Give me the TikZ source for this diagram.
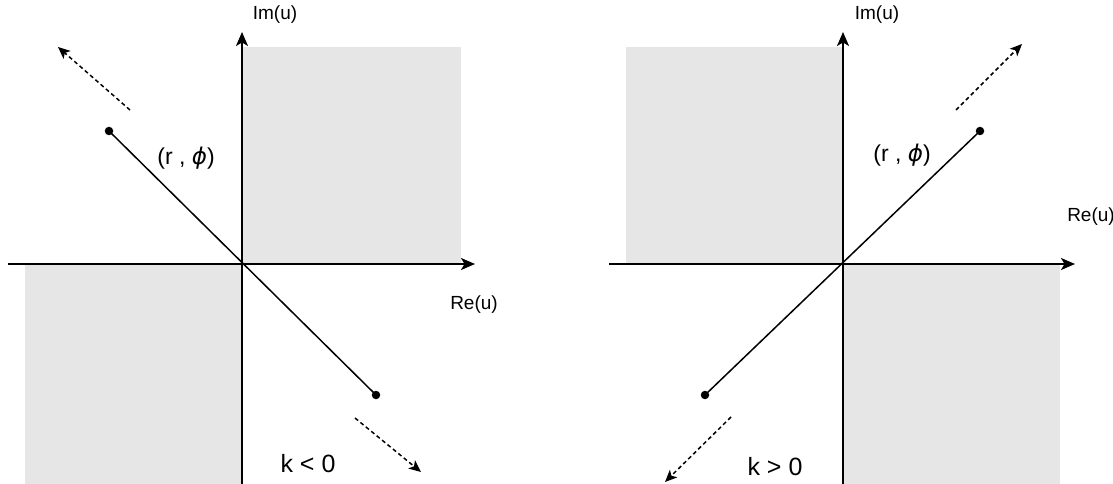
\documentclass[tikz,border=0pt]{standalone}
\usepackage{fontspec}
\setmainfont{Liberation Sans}
\newfontfamily\phifont{DejaVu Sans}
\usetikzlibrary{arrows.meta}
\definecolor{quad}{HTML}{E6E6E6}
\newcommand{\myphi}{{\phifont\itshape ϕ}}
\tikzset{
  axis/.style={line width=1.6pt, -{Stealth[length=14pt,width=12pt,inset=3.5pt]}},
  quadfill/.style={fill=quad, draw=none},
  ray/.style={line width=1.5pt},
  dotmark/.style={circle, fill=black, inner sep=0pt, minimum size=8.5pt},
  dashray/.style={line width=1.5pt, dash pattern=on 4pt off 3pt, -{Stealth[length=12pt,width=10.5pt,inset=3pt]}},
  axlabel/.style={font=\fontsize{19}{21}\selectfont, inner sep=0pt},
  coordlabel/.style={font=\fontsize{23}{26}\selectfont, inner sep=0pt},
  klabel/.style={font=\fontsize{25}{28}\selectfont, inner sep=0pt},
}
\begin{document}
\begin{tikzpicture}[x=1pt,y=-1pt]
\useasboundingbox (0,0) rectangle (1113,484);
% ---------- left panel (k<0) ----------
\fill[quadfill] (242,47) rectangle (461,264);
\fill[quadfill] (25,264) rectangle (242,484);
\coordinate (LyB) at (242,484);
\coordinate (LyT) at (242,32);
\coordinate (LxL) at (8,264);
\coordinate (LxR) at (475,264);
\draw[axis] (LyB) -- (LyT);
\draw[axis] (LxL) -- (LxR);
\node[dotmark] (Lp1) at (109,131) {};
\node[dotmark] (Lp2) at (376,395) {};
\draw[ray] (Lp1.center) -- (Lp2.center);
\coordinate (La1s) at (130,110);
\coordinate (La1e) at (58,47);
\coordinate (La2s) at (355,418);
\coordinate (La2e) at (421,472);
\draw[dashray] (La1s) -- (La1e);
\draw[dashray] (La2s) -- (La2e);
\node[axlabel] (LIm) at (275,15) {Im(u)};
\node[axlabel] (LRe) at (474,305) {Re(u)};
\node[coordlabel] (Lrp) at (186,158) {(r , \myphi)};
\node[klabel] (Lk) at (308,464) {k < 0};
% ---------- right panel (k>0) ----------
\fill[quadfill] (626,47) rectangle (843,264);
\fill[quadfill] (843,264) rectangle (1060,484);
\coordinate (RyB) at (843,484);
\coordinate (RyT) at (843,32);
\coordinate (RxL) at (609,264);
\coordinate (RxR) at (1075,264);
\draw[axis] (RyB) -- (RyT);
\draw[axis] (RxL) -- (RxR);
\node[dotmark] (Rp1) at (705,395) {};
\node[dotmark] (Rp2) at (980,131) {};
\draw[ray] (Rp1.center) -- (Rp2.center);
\coordinate (Ra1s) at (956,110);
\coordinate (Ra1e) at (1022,44);
\coordinate (Ra2s) at (731,417);
\coordinate (Ra2e) at (665,482);
\draw[dashray] (Ra1s) -- (Ra1e);
\draw[dashray] (Ra2s) -- (Ra2e);
\node[axlabel] (RIm) at (877,15) {Im(u)};
\node[axlabel] (RRe) at (1091,217) {Re(u)};
\node[coordlabel] (Rrp) at (902,155) {(r , \myphi)};
\node[klabel] (Rk) at (775,467) {k > 0};
\end{tikzpicture}
\end{document}
